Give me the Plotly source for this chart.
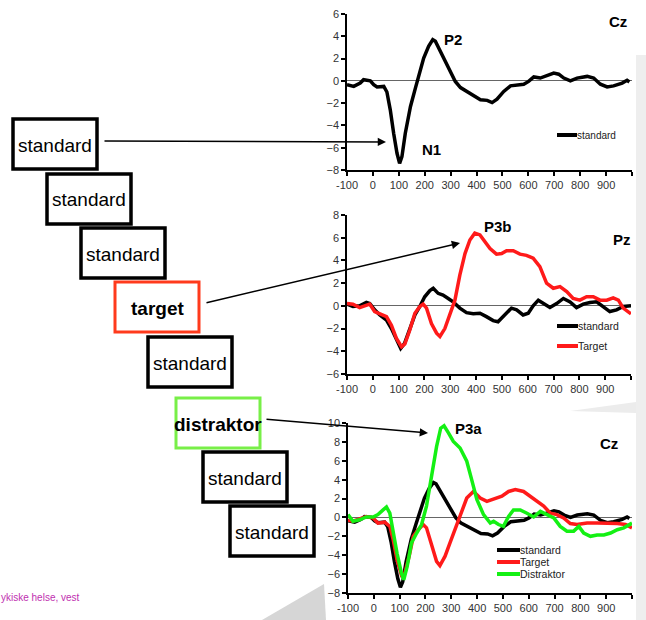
import plotly.graph_objects as go

# ---------------- data: grand-average ERPs (ms, microvolt) ----------------
cz_std_t = [-100, -74, -49, -36, -10, 3, 16, 42, 54, 67, 80, 93, 103, 112, 125, 145, 164, 177,
            196, 215, 231, 241, 260, 280, 299, 318, 338, 363, 389, 415, 441, 460, 479, 505,
            531, 556, 582, 601, 621, 646, 672, 698, 717, 737, 762, 788, 827, 852, 878, 904,
            929, 962, 981, 990]
cz_std_v = [-0.35, -0.5, -0.2, 0.1, 0, -0.35, -0.55, -0.5, -1, -2.6, -4.7, -6.5, -7.4, -6.8,
            -4.7, -2.3, -0.65, 0.55, 2.05, 3.1, 3.7, 3.55, 2.65, 1.75, 0.7, -0.05, -0.6, -0.95,
            -1.4, -1.7, -1.75, -1.95, -1.65, -0.95, -0.45, -0.35, -0.3, -0.05, 0.35, 0.25, 0.45,
            0.7, 0.6, 0.25, 0, 0.25, 0.4, 0.25, -0.3, -0.55, -0.45, -0.2, 0.05, -0.1]

pz_std_t = [-100, -77, -51, -25, -12, 7, 27, 53, 72, 91, 108, 123, 143, 163, 182, 201, 221, 234,
            253, 272, 292, 311, 337, 363, 389, 415, 440, 466, 485, 511, 537, 557, 582, 602, 621,
            641, 660, 686, 712, 738, 764, 789, 815, 841, 867, 893, 918, 944, 970, 1000]
pz_std_v = [0.15, -0.05, 0, 0.3, 0.2, -0.35, -0.8, -1.25, -2, -3, -3.75, -3.3, -2.15, -0.8, -0.05,
            0.8, 1.35, 1.55, 1.1, 0.95, 0.65, 0.35, -0.2, -0.6, -0.7, -0.65, -0.95, -1.3, -1.4,
            -0.8, -0.2, -0.35, -0.8, -0.65, 0, 0.5, 0.2, -0.15, 0.2, 0.65, 0.35, -0.15, 0.15, 0.3,
            0.35, -0.05, -0.5, -0.35, -0.05, 0]

pz_tgt_t = [-100, -77, -51, -25, -12, 7, 33, 53, 72, 91, 111, 124, 143, 163, 182, 195, 208, 227,
            247, 260, 279, 298, 318, 337, 357, 376, 395, 415, 434, 454, 479, 499, 518, 544, 570,
            595, 621, 647, 673, 699, 725, 751, 776, 802, 828, 854, 880, 906, 931, 951, 970, 990,
            1000]
pz_tgt_v = [0.2, 0.15, -0.15, 0, 0.15, -0.5, -0.8, -0.95, -1.7, -2.85, -3.6, -3.35, -2.15, -0.65,
            -0.05, 0.15, -0.2, -1.55, -2.4, -2.7, -2, -0.8, 0.5, 2.7, 4.6, 5.8, 6.4, 6.25, 5.65,
            5.05, 4.55, 4.6, 4.85, 4.85, 4.55, 4.45, 4.2, 3.45, 2, 1.55, 1.7, 1.25, 0.65, 0.5,
            0.8, 0.8, 0.5, 0.5, 0.7, 0.5, -0.2, -0.6, -0.7]

cz_tgt_t = [-100, -81, -55, -29, -3, 16, 42, 62, 75, 90, 107, 120, 137, 153, 172, 191, 204, 224,
            243, 256, 276, 295, 321, 340, 360, 386, 412, 438, 463, 496, 522, 548, 580, 606, 632,
            658, 684, 709, 735, 761, 787, 826, 865, 904, 943, 975, 1000]
cz_tgt_v = [-0.3, -0.4, -0.15, 0.1, -0.05, -0.6, -0.5, -0.95, -2.35, -4.5, -6.1, -5.9, -4.1, -2,
            -1.3, -0.75, -1.1, -3.05, -4.65, -5.1, -4.1, -2.7, -0.75, 0.8, 2.05, 2.75, 2.05, 1.7,
            1.9, 2.25, 2.75, 2.95, 2.75, 2.25, 1.7, 1.2, 0.45, 0.3, -0.05, -0.65, -0.75, -0.6,
            -0.6, -0.6, -0.65, -0.75, -1.1]

cz_dis_t = [-100, -81, -55, -29, -3, 16, 36, 49, 62, 75, 90, 107, 116, 129, 146, 166, 185, 204,
            224, 243, 259, 272, 289, 308, 334, 360, 379, 399, 425, 451, 464, 483, 502, 522, 541,
            567, 593, 619, 645, 671, 697, 722, 748, 774, 794, 813, 839, 865, 891, 917, 943, 968,
            1000]
cz_dis_v = [0.3, -0.4, -0.25, 0.05, 0.05, 0.3, 0.8, 1.1, 0.45, -1.65, -3.8, -5.9, -6.6, -5.2,
            -2.7, -1.65, -0.75, 1.2, 4.35, 7.5, 9.45, 9.7, 8.95, 8.05, 7.35, 5.95, 4, 1.9, 0.3,
            -0.6, -0.4, -0.75, -0.95, 0.1, 0.8, 0.8, 0.45, 0.05, 0.65, 0.3, -0.05, -0.95, -1.45,
            -1.45, -0.95, -1.65, -2, -1.85, -1.85, -1.65, -1.3, -1.1, -0.6]

x_ticks = list(range(-100, 1001, 100))
x_tick_labels = [str(v) for v in range(-100, 1000, 100)] + [""]

stimulus_sequence = ["standard", "standard", "standard", "target",
                     "standard", "distraktor", "standard", "standard"]
series_names = ["standard", "Target", "Distraktor"]
peak_labels = ["N1", "P2", "P3b", "P3a"]
channel_labels = ["Cz", "Pz", "Cz"]

# ---------------- styling ----------------
W, H = 646, 620
BLACK, RED, GREEN = "#000000", "#ff1a1a", "#14f014"
SANS = "Liberation Sans, Arial, sans-serif"


def px(x):
    return x / W


def py(y):
    return 1 - y / H


fig = go.Figure()


def trace(t, v, color, ax):
    fig.add_trace(go.Scatter(x=t, y=v, mode="lines", xaxis="x" + ax, yaxis="y" + ax,
                             line=dict(color=color, width=3.5), showlegend=False,
                             hoverinfo="skip"))


trace(cz_std_t, cz_std_v, BLACK, "")
trace(pz_std_t, pz_std_v, BLACK, "2")
trace(pz_tgt_t, pz_tgt_v, RED, "2")
trace(cz_std_t, cz_std_v, BLACK, "3")
trace(cz_tgt_t, cz_tgt_v, RED, "3")
trace(cz_dis_t, cz_dis_v, GREEN, "3")

# panel geometry (pixel boxes)
panels = [
    dict(x0=347, x1=632, ybot=170, ytop=14, rng=[-8, 6]),
    dict(x0=347, x1=631, ybot=374, ytop=215, rng=[-6, 8]),
    dict(x0=348, x1=632, ybot=593, ytop=423, rng=[-8, 10]),
]

axis_font = dict(family=SANS, size=11, color="#333333")
layout_axes = {}
for i, p in enumerate(panels):
    sfx = "" if i == 0 else str(i + 1)
    layout_axes["xaxis" + sfx] = dict(
        domain=[px(p["x0"]), px(p["x1"])], range=[-100, 1000], anchor="y" + sfx,
        tickvals=x_ticks, ticktext=x_tick_labels, ticks="outside", ticklen=4,
        tickwidth=1.5, tickcolor="black", showline=True, linecolor="black", linewidth=1.5,
        showgrid=False, zeroline=False, tickfont=axis_font, fixedrange=True,
        automargin=False, tickangle=0)
    layout_axes["yaxis" + sfx] = dict(
        domain=[py(p["ybot"]), py(p["ytop"])], range=p["rng"], anchor="x" + sfx,
        tickvals=list(range(p["rng"][0], p["rng"][1] + 1, 2)), ticks="outside", ticklen=4,
        tickwidth=1.5, tickcolor="black", showline=True, linecolor="black", linewidth=1.5,
        showgrid=False, zeroline=True, zerolinecolor="#666666", zerolinewidth=1,
        tickfont=axis_font, fixedrange=True, automargin=False)

shapes = []
annotations = []

# light grey slide background pieces
shapes.append(dict(type="rect", xref="paper", yref="paper", x0=px(636), x1=1, y0=0,
                   y1=py(55), fillcolor="#eeeeee", line=dict(width=0), layer="below"))
shapes.append(dict(type="path", xref="paper", yref="paper",
                   path=f"M {px(262)},{py(620)} L {px(324)},{py(584)} L {px(326)},{py(620)} Z",
                   fillcolor="#d6d6d6", line=dict(width=0), layer="below"))
shapes.append(dict(type="path", xref="paper", yref="paper",
                   path=f"M {px(570)},{py(411)} L {px(636)},{py(402)} L {px(636)},{py(413)} Z",
                   fillcolor="#ececec", line=dict(width=0), layer="below"))

# stimulus boxes
box_pos = [(13, 119), (47, 174), (81, 228), (115, 282), (148, 337), (176, 398), (203, 452),
           (230, 506)]
box_w, box_h = 84, 50
for label, (bx, by) in zip(stimulus_sequence, box_pos):
    if label == "target":
        col, lw, bold = "#ff3a1c", 3, True
    elif label == "distraktor":
        col, lw, bold = "#78ef48", 3, True
    else:
        col, lw, bold = "#000000", 3.5, False
    shapes.append(dict(type="rect", xref="paper", yref="paper", x0=px(bx), x1=px(bx + box_w),
                       y0=py(by + box_h), y1=py(by), line=dict(color=col, width=lw),
                       fillcolor="rgba(0,0,0,0)"))
    txt = f"<b>{label}</b>" if bold else label
    annotations.append(dict(x=px(bx + box_w / 2), y=py(by + box_h / 2 + 1), xref="paper",
                            yref="paper", text=txt, showarrow=False, xanchor="center",
                            yanchor="middle", font=dict(family=SANS, size=19, color="black")))

# arrows from stimuli to components: (head_x, head_y, tail_x, tail_y)
arrows = [(386, 142, 103, 141), (460, 243, 205, 303), (428, 433, 265, 419)]
for hx, hy, tx, ty in arrows:
    annotations.append(dict(x=px(hx), y=py(hy), xref="paper", yref="paper", text="",
                            showarrow=True, ax=tx - hx, ay=ty - hy, arrowhead=2,
                            arrowsize=1.1, arrowwidth=1.5, arrowcolor="black"))

# component and channel labels
lab_pos = {"N1": (432, 149), "P2": (453, 40), "P3b": (498, 226), "P3a": (469, 428)}
for lab in peak_labels:
    x, y = lab_pos[lab]
    annotations.append(dict(x=px(x), y=py(y), xref="paper", yref="paper", text=f"<b>{lab}</b>",
                            showarrow=False, xanchor="center", yanchor="middle",
                            font=dict(family=SANS, size=15, color="black")))
chan_pos = [(618, 21), (622, 239), (609, 443)]
for lab, (x, y) in zip(channel_labels, chan_pos):
    annotations.append(dict(x=px(x), y=py(y), xref="paper", yref="paper", text=f"<b>{lab}</b>",
                            showarrow=False, xanchor="center", yanchor="middle",
                            font=dict(family=SANS, size=15, color="black")))

# legends
legend_sets = [
    dict(x0=557, x1=577, ys=[135], colors=[BLACK], names=series_names[:1], size=10),
    dict(x0=557, x1=578, ys=[326, 346], colors=[BLACK, RED], names=series_names[:2], size=10.5),
    dict(x0=497, x1=520, ys=[550, 562, 574], colors=[BLACK, RED, GREEN], names=series_names,
         size=10.5),
]
for lg in legend_sets:
    for y, c, n in zip(lg["ys"], lg["colors"], lg["names"]):
        shapes.append(dict(type="line", xref="paper", yref="paper", x0=px(lg["x0"]),
                           x1=px(lg["x1"]), y0=py(y), y1=py(y), line=dict(color=c, width=4)))
        annotations.append(dict(x=px(lg["x1"] - 1), y=py(y), xref="paper", yref="paper",
                                text=n, showarrow=False, xanchor="left", yanchor="middle",
                                borderpad=0,
                                font=dict(family=SANS, size=lg["size"], color="#222222")))

# footer
annotations.append(dict(x=0, y=py(597), xref="paper", yref="paper", text="ykiske helse, vest",
                        showarrow=False, xanchor="left", yanchor="middle", borderpad=0,
                        font=dict(family=SANS, size=10, color="#c02fb0")))

fig.update_layout(
    template="none",
    width=W, height=H, margin=dict(l=0, r=0, t=0, b=0, pad=0), autosize=False,
    paper_bgcolor="white", plot_bgcolor="rgba(0,0,0,0)",
    showlegend=False, shapes=shapes, annotations=annotations, **layout_axes)

fig.write_html("out.html", config={"displayModeBar": False})
